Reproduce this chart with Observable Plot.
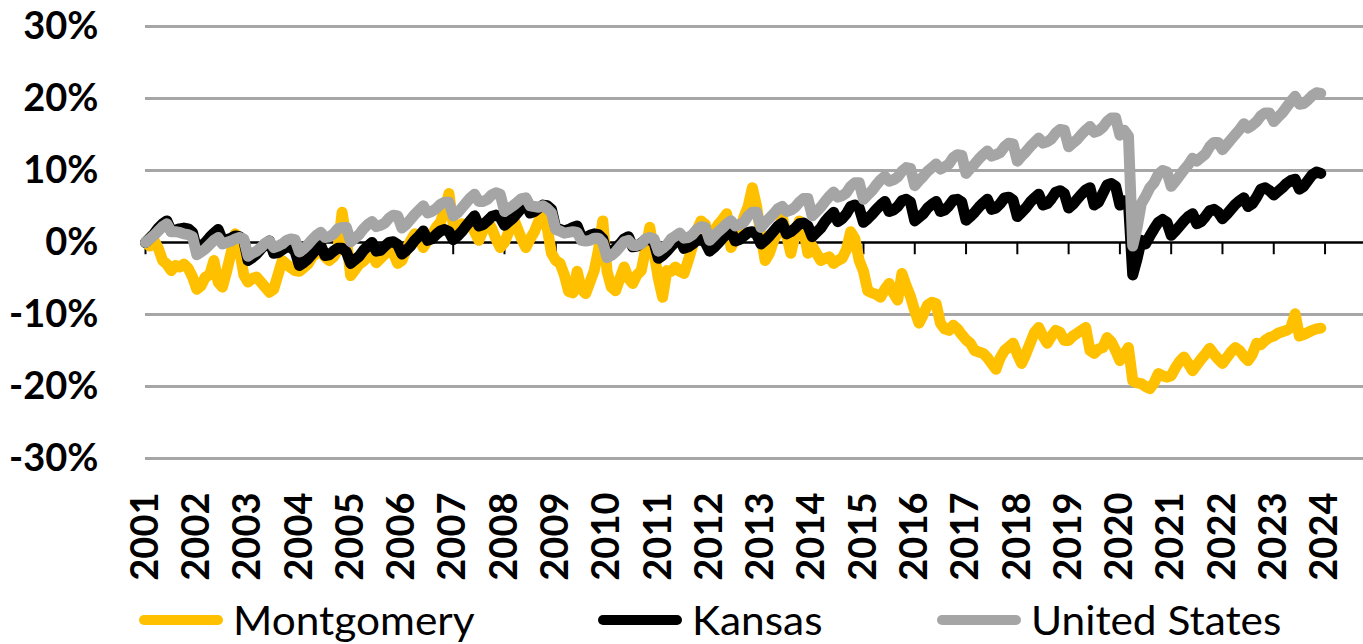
<!DOCTYPE html>
<html><head><meta charset="utf-8">
<script src="https://cdn.jsdelivr.net/npm/d3@7"></script>
<script src="https://cdn.jsdelivr.net/npm/@observablehq/plot@0.6"></script>
<style>
body{margin:0;background:#fff;}
#chart{position:relative;width:1363px;height:644px;overflow:hidden;background:#fff}
.legend{position:absolute;top:596px;left:0;width:1363px;height:48px;font-family:Lato,sans-serif;font-size:40px;line-height:48px;color:#000}
.item{position:absolute;top:0;height:48px;display:flex;align-items:center;white-space:nowrap}
.swatch{width:84px;height:10px;border-radius:5px;margin-right:10px}
.label{display:inline-block;transform:scaleX(1.06);transform-origin:left center}
</style></head><body><div id="chart"></div>
<script>
const seriesNames = ["Montgomery", "Kansas", "United States"];
const seriesColors = ["#FFC000", "#000000", "#A5A5A5"];
const yearLabels = [2001,2002,2003,2004,2005,2006,2007,2008,2009,2010,2011,2012,2013,2014,2015,2016,2017,2018,2019,2020,2021,2022,2023,2024];
const yTicks = [-30, -20, -10, 0, 10, 20, 30];

// Monthly % change since Jan 2001, Jan 2001 – Dec 2023
const montgomery = [
 0.0,-0.5,0.3,-0.8,-2.5,-3.0,-3.9,-3.2,-3.4,-3.0,-3.6,-4.8,
 -6.5,-6.0,-4.8,-4.5,-2.5,-5.5,-6.2,-4.0,-1.5,1.2,-1.0,-4.5,
 -5.5,-5.0,-4.8,-5.5,-6.2,-6.9,-6.5,-4.5,-2.5,-3.0,-3.5,-3.9,
 -4.0,-3.5,-3.0,-2.0,-1.5,-1.1,-2.0,-2.5,-2.0,-1.0,4.2,0.5,
 -4.6,-3.8,-3.0,-2.6,-2.0,-1.5,-2.8,-2.2,-1.6,-1.0,-1.5,-2.9,
 -2.5,-1.0,0.2,1.2,0.5,-0.7,0.3,1.0,2.1,2.8,4.5,6.8,
 2.5,1.7,2.6,2.4,2.6,1.5,0.3,1.7,3.0,2.0,0.5,-0.7,
 0.0,1.5,3.5,2.0,0.5,-0.7,0.5,1.5,3.0,4.0,2.0,-1.5,
 -2.5,-2.9,-4.5,-6.8,-7.0,-4.0,-6.5,-7.1,-5.5,-3.9,-1.0,3.0,
 -4.0,-6.2,-6.7,-5.0,-3.4,-5.0,-5.7,-4.5,-3.9,-1.0,2.1,-1.5,
 -5.0,-7.6,-3.9,-4.0,-3.4,-4.0,-4.3,-2.5,-0.5,1.7,3.0,2.5,
 0.7,1.5,2.5,3.2,4.0,-0.7,0.5,1.5,3.5,5.0,7.6,5.0,
 1.0,-2.5,-1.5,0.3,1.5,3.5,1.0,-1.5,1.0,3.0,1.7,-1.5,
 -0.5,-1.5,-2.5,-2.2,-2.0,-2.9,-2.5,-2.2,-1.0,1.5,0.5,-2.5,
 -4.0,-6.7,-7.0,-7.2,-7.6,-6.5,-5.7,-7.0,-8.0,-4.3,-6.0,-7.5,
 -9.5,-11.2,-10.0,-8.7,-8.3,-8.5,-11.2,-12.0,-12.2,-11.5,-12.0,-12.8,
 -13.5,-14.0,-15.0,-15.2,-15.4,-16.0,-16.8,-17.6,-16.0,-15.0,-14.5,-14.0,
 -15.5,-16.8,-15.5,-14.0,-12.5,-11.8,-13.0,-14.0,-13.0,-12.2,-12.5,-13.6,
 -13.6,-13.0,-12.6,-12.2,-11.8,-15.0,-15.4,-14.8,-14.6,-13.2,-13.8,-15.0,
 -16.4,-15.5,-14.6,-19.2,-19.5,-19.6,-20.0,-20.3,-19.5,-18.2,-18.5,-18.7,
 -18.5,-17.4,-16.5,-15.9,-16.8,-17.8,-17.0,-16.2,-15.5,-14.7,-15.5,-16.2,
 -16.8,-16.0,-15.2,-14.6,-15.0,-15.8,-16.4,-15.5,-14.0,-14.2,-13.6,-13.2,
 -13.0,-12.6,-12.4,-12.2,-11.8,-9.9,-13.0,-12.8,-12.5,-12.2,-12.0,-11.9
];
const kansas = [
 0.0,0.6,1.2,2.0,2.6,3.0,1.6,1.7,1.9,2.0,1.9,1.4,
 -1.0,-0.5,0.0,0.7,1.3,1.8,0.3,0.4,0.6,0.9,0.8,0.3,
 -2.5,-2.1,-1.6,-0.9,-0.3,0.2,-1.5,-1.4,-1.0,-0.6,-0.7,-1.2,
 -3.2,-2.8,-2.3,-1.6,-0.9,-0.4,-1.8,-1.7,-1.2,-0.8,-0.8,-1.3,
 -2.9,-2.4,-1.9,-1.1,-0.5,0.0,-1.2,-1.1,-0.5,0.0,0.1,-0.3,
 -1.6,-1.1,-0.5,0.3,0.9,1.6,0.3,0.5,1.1,1.6,1.8,1.5,
 0.4,0.9,1.5,2.3,3.0,3.7,2.3,2.5,3.0,3.6,3.8,3.5,
 2.4,2.9,3.4,4.1,4.8,5.4,4.1,4.3,4.8,5.2,5.1,4.6,
 2.0,1.8,1.6,1.8,2.1,2.3,0.8,0.7,1.0,1.2,1.1,0.5,
 -1.6,-1.3,-0.8,-0.2,0.5,0.8,-0.6,-0.5,-0.1,0.4,0.4,0.0,
 -2.2,-1.8,-1.2,-0.5,0.1,0.5,-0.8,-0.6,-0.2,0.3,0.4,0.0,
 -1.2,-0.7,-0.1,0.6,1.2,1.6,0.2,0.4,0.9,1.4,1.5,1.1,
 -0.2,0.3,0.9,1.6,2.3,2.7,1.2,1.5,2.0,2.6,2.7,2.3,
 0.8,1.4,2.0,2.9,3.6,4.2,2.9,3.3,4.0,5.0,5.2,4.8,
 2.8,3.3,3.9,4.6,5.2,5.7,4.3,4.5,5.0,5.8,6.0,5.6,
 3.0,3.5,4.0,4.8,5.3,5.7,4.3,4.5,5.1,5.9,6.0,5.6,
 3.1,3.6,4.2,4.9,5.5,6.0,4.6,4.8,5.4,6.2,6.3,5.9,
 3.6,4.2,4.8,5.6,6.2,6.7,5.2,5.4,6.1,7.0,7.2,6.8,
 4.8,5.3,6.0,6.7,7.3,7.6,5.2,5.6,6.8,8.0,8.2,7.8,
 5.2,5.8,5.6,-4.5,-2.3,0.3,-0.2,0.9,1.9,2.8,3.2,2.8,
 1.0,1.6,2.3,3.0,3.6,4.0,2.6,2.9,3.6,4.4,4.6,4.2,
 3.3,3.9,4.6,5.3,5.8,6.2,5.0,5.4,6.3,7.4,7.6,7.2,
 6.6,7.1,7.6,8.2,8.6,8.8,7.4,7.8,8.6,9.4,9.8,9.6
];
const unitedStates = [
 0.0,0.5,1.0,1.6,2.2,2.6,1.5,1.5,1.4,1.2,1.1,0.8,
 -1.7,-1.3,-0.9,-0.3,0.3,0.7,-0.2,0.0,0.2,0.5,0.7,0.5,
 -1.9,-1.5,-1.2,-0.7,-0.1,0.2,-0.7,-0.5,-0.2,0.3,0.5,0.4,
 -1.3,-0.9,-0.3,0.4,1.0,1.4,0.7,0.8,1.2,1.9,2.1,2.1,
 0.1,0.6,1.1,1.9,2.5,2.9,2.2,2.4,2.7,3.4,3.8,3.7,
 2.0,2.5,3.2,3.9,4.5,5.1,4.1,4.3,4.7,5.3,5.6,5.6,
 3.7,4.1,4.8,5.5,6.2,6.7,5.7,5.7,6.0,6.6,6.9,6.7,
 4.3,4.7,5.1,5.6,6.1,6.2,5.1,5.0,4.9,5.1,4.7,4.1,
 1.8,1.6,1.3,1.4,1.5,1.4,0.3,0.2,0.3,0.6,0.6,0.0,
 -2.1,-1.8,-1.3,-0.6,0.1,0.3,-0.4,-0.4,-0.2,0.5,0.7,0.5,
 -1.2,-0.8,-0.3,0.5,0.9,1.3,0.6,0.7,1.1,1.8,2.2,2.1,
 0.3,0.9,1.5,2.0,2.6,3.0,2.3,2.5,2.8,3.7,4.2,4.2,
 2.1,2.8,3.4,4.0,4.7,5.0,4.3,4.5,4.9,5.6,6.1,6.1,
 3.7,4.3,4.9,5.7,6.4,7.0,6.3,6.5,6.9,7.8,8.3,8.3,
 6.0,6.6,7.2,8.0,8.7,9.2,8.5,8.7,9.1,9.9,10.4,10.3,
 7.9,8.6,9.2,9.9,10.4,10.9,10.2,10.5,10.9,11.8,12.2,12.1,
 9.6,10.3,10.9,11.6,12.2,12.7,12.0,12.2,12.5,13.3,13.8,13.7,
 11.3,12.0,12.6,13.3,13.9,14.5,13.8,14.0,14.4,15.2,15.7,15.6,
 13.3,13.8,14.3,15.0,15.6,16.1,15.3,15.5,16.0,16.8,17.3,17.3,
 14.9,15.6,14.8,-0.5,2.0,5.4,6.4,7.6,8.3,9.5,10.0,9.8,
 7.8,8.5,9.3,10.1,10.8,11.7,11.3,11.8,12.3,13.3,13.9,13.9,
 12.9,13.6,14.3,15.0,15.7,16.5,15.9,16.3,16.8,17.6,18.0,18.0,
 16.8,17.4,18.0,18.8,19.6,20.3,19.2,19.3,19.8,20.4,20.8,20.7
];

const seriesValues = [montgomery, kansas, unitedStates];
const rows = [];
seriesNames.forEach((name, s) => {
  seriesValues[s].forEach((v, i) => rows.push({series: name, month: i, value: v}));
});
const tickMonths = yearLabels.map((y, k) => k * 12);

const chart = Plot.plot({
  width: 1363,
  height: 596,
  marginLeft: 145,
  marginRight: 0,
  marginTop: 26,
  marginBottom: 138,
  style: {fontFamily: "Lato, sans-serif", fontSize: "38px", fontWeight: "700", background: "#fff", color: "#000"},
  x: {domain: [0, 285]},
  y: {domain: [-30, 30]},
  color: {domain: seriesNames, range: seriesColors},
  marks: [
    Plot.ruleY(yTicks.filter(d => d !== 0), {stroke: "#A6A6A6", strokeWidth: 3}),
    Plot.axisY({ticks: yTicks, tickFormat: d => `${d}%`, tickSize: 0, tickPadding: 47, label: null, fill: "#000"}),
    Plot.axisX({ticks: tickMonths, tickFormat: m => String(yearLabels[m / 12]), tickRotate: -90, tickSize: 0, tickPadding: 34, label: null, fill: "#000"}),
    Plot.ruleY([0], {stroke: "#000", strokeWidth: 2.5}),
    Plot.ruleX(tickMonths, {y1: 0, y2: -1.7, stroke: "#000", strokeWidth: 2}),
    Plot.lineY(rows, {x: "month", y: "value", z: "series", stroke: "series", strokeWidth: 11, strokeLinejoin: "round", strokeLinecap: "round"})
  ]
});

const root = document.getElementById("chart");
root.appendChild(chart);
const legend = document.createElement("div");
legend.className = "legend";
const legendLeft = [139, 598, 937];
seriesNames.forEach((name, s) => {
  const item = document.createElement("div");
  item.className = "item";
  item.style.left = legendLeft[s] + "px";
  const sw = document.createElement("span");
  sw.className = "swatch";
  sw.style.background = seriesColors[s];
  const tx = document.createElement("span");
  tx.className = "label";
  tx.textContent = name;
  item.appendChild(sw);
  item.appendChild(tx);
  legend.appendChild(item);
});
root.appendChild(legend);
</script>
</body></html>
